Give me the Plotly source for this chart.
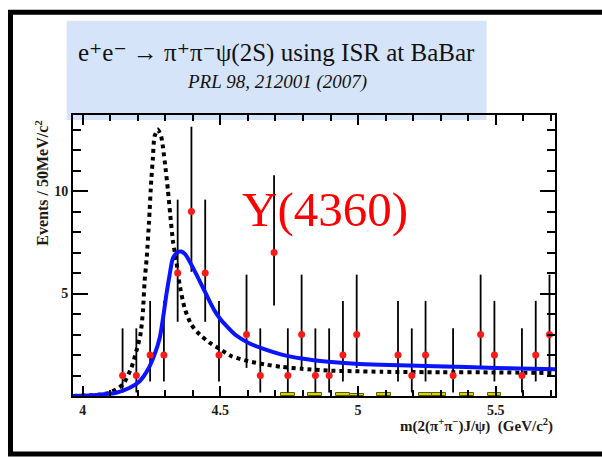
import plotly.graph_objects as go

# Measured spectrum: bin centres (GeV/c^2) and event counts per 50 MeV bin
mass = [4.145, 4.195, 4.245, 4.295, 4.345, 4.395, 4.445, 4.495, 4.595, 4.645,
        4.695, 4.745, 4.795, 4.845, 4.895, 4.945, 4.995, 5.145, 5.195, 5.245,
        5.345, 5.445, 5.495, 5.595, 5.645, 5.695]
events = [1, 1, 2, 2, 6, 9, 6, 2, 3, 1,
          7, 1, 3, 1, 1, 2, 3, 2, 1, 2,
          1, 3, 2, 1, 2, 3]

# Poisson 68% interval (lower, upper distance) for each observed count
poisson_err = {1: (0.83, 2.30), 2: (1.29, 2.64), 3: (1.63, 2.92),
               6: (2.38, 3.58), 7: (2.58, 3.77), 9: (2.94, 4.14)}
err_lo = [poisson_err[n][0] for n in events]
err_hi = [poisson_err[n][1] for n in events]

# J/psi sideband background histogram
bkg_mass = [4.745, 4.845, 4.945, 4.995, 5.095, 5.245, 5.295, 5.395, 5.495]
bkg_events = [0.15, 0.15, 0.15, 0.12, 0.15, 0.15, 0.15, 0.15, 0.15]

# Fitted Y(4360) line shape
fit_x = [3.965, 4.05, 4.122, 4.171, 4.207, 4.237, 4.261, 4.280, 4.292, 4.304,
         4.316, 4.328, 4.345, 4.358, 4.372, 4.388, 4.413, 4.437, 4.461, 4.480,
         4.497, 4.517, 4.553, 4.601, 4.662, 4.723, 4.795, 4.892, 4.989, 5.080,
         5.280, 5.500, 5.715]
fit_y = [0.0, 0.05, 0.16, 0.40, 0.72, 1.29, 2.02, 2.84, 3.81, 4.95,
         5.93, 6.74, 7.02, 7.05, 6.92, 6.58, 5.93, 5.28, 4.62, 4.14,
         3.81, 3.49, 3.00, 2.60, 2.27, 2.02, 1.83, 1.67, 1.57, 1.52,
         1.45, 1.37, 1.30]

# Expected shape for the Y(4260) hypothesis
y4260_x = [3.965, 4.05, 4.098, 4.146, 4.177, 4.195, 4.210, 4.219, 4.225, 4.233,
           4.241, 4.249, 4.255, 4.261, 4.273, 4.285, 4.292, 4.301, 4.310, 4.318,
           4.328, 4.340, 4.352, 4.370, 4.394, 4.425, 4.461, 4.497, 4.541, 4.601,
           4.662, 4.723, 4.795, 4.892, 4.989, 5.086, 5.300, 5.500, 5.715]
y4260_y = [0.0, 0.05, 0.16, 0.56, 1.38, 2.19, 3.00, 4.14, 5.60, 6.80,
           8.50, 10.5, 11.6, 12.67, 13.0, 12.67, 12.1, 11.1, 10.0, 8.85,
           7.55, 6.58, 5.44, 4.30, 3.49, 3.00, 2.60, 2.30, 1.94, 1.70,
           1.54, 1.42, 1.33, 1.24, 1.21, 1.18, 1.16, 1.15, 1.12]

serif = "Liberation Serif, DejaVu Serif, serif"

fig = go.Figure()

fig.add_trace(go.Bar(
    x=bkg_mass, y=bkg_events, width=0.05,
    marker=dict(color="#d8d400", line=dict(color="#5a5a00", width=1)),
    showlegend=False, hoverinfo="skip"))

fig.add_trace(go.Scatter(
    x=mass, y=events, mode="markers",
    marker=dict(size=7, color="rgba(0,0,0,0)"),
    error_y=dict(type="data", symmetric=False, array=err_hi, arrayminus=err_lo,
                 color="black", thickness=1.8, width=0),
    showlegend=False))

fig.add_trace(go.Scatter(
    x=y4260_x, y=y4260_y, mode="lines",
    line=dict(color="black", width=4, dash="4px,4px", shape="spline", smoothing=0.6),
    showlegend=False))

fig.add_trace(go.Scatter(
    x=fit_x, y=fit_y, mode="lines",
    line=dict(color="#0a14ff", width=4, shape="spline", smoothing=0.6),
    showlegend=False))

fig.add_trace(go.Scatter(
    x=mass, y=events, mode="markers",
    marker=dict(size=7, color="#ff1a1a"),
    showlegend=False))

axis_common = dict(
    showgrid=False, zeroline=False, showline=True, linecolor="black", linewidth=2,
    mirror="allticks", ticks="inside", tickcolor="black", tickwidth=1.5,
    tickfont=dict(family=serif, size=14, color="#1e1a14", weight="bold"))

fig.update_xaxes(range=[3.965, 5.715], tick0=4, dtick=0.5, ticklen=10,
                 minor=dict(dtick=0.1, tick0=4, ticks="inside", ticklen=6,
                            tickcolor="black", tickwidth=1.5),
                 **axis_common)
fig.update_yaxes(range=[0, 13.71], tick0=0, dtick=5, ticklen=15,
                 tickvals=[5, 10], ticktext=["5", "10"],
                 minor=dict(dtick=1, tick0=0, ticks="inside", ticklen=8,
                            tickcolor="black", tickwidth=1.5),
                 **axis_common)

fig.update_layout(
    width=602, height=457,
    margin=dict(l=73, r=47, t=115, b=61),
    paper_bgcolor="white", plot_bgcolor="white",
    bargap=0,
    shapes=[
        # banner behind the title
        dict(type="rect", xref="paper", yref="paper",
             x0=-0.0131, x1=0.858, y0=0.9822, y1=1.3356,
             fillcolor="#d6e4fa", line=dict(width=0), layer="below"),
        # outer slide frame
        dict(type="rect", xref="paper", yref="paper",
             x0=-0.1297, x1=1.12, y0=-0.2064, y1=1.366,
             fillcolor="rgba(0,0,0,0)", line=dict(color="black", width=5)),
    ],
    annotations=[
        dict(text="e\u207ae\u207b \u2192 \u03c0\u207a\u03c0\u207b\u03c8(2S) using ISR at BaBar",
             xref="paper", yref="paper", x=0.4232, y=1.22,
             xanchor="center", yanchor="middle", showarrow=False,
             font=dict(family=serif, size=25, color="#111")),
        dict(text="PRL 98, 212001 (2007)",
             xref="paper", yref="paper", x=0.4232, y=1.117,
             xanchor="center", yanchor="middle", showarrow=False,
             font=dict(family=serif, size=19, color="#111", style="italic")),
        dict(text="Y(4360)", xref="x", yref="y", x=4.88, y=9.1,
             xanchor="center", yanchor="middle", showarrow=False,
             font=dict(family=serif, size=49, color="#ff0000")),
        dict(text="Events / 50MeV/c<sup>2</sup>", textangle=-90,
             xref="paper", yref="paper", x=-0.065, y=0.758,
             xanchor="center", yanchor="middle", showarrow=False,
             font=dict(family=serif, size=16, color="#1e1a14", weight="bold")),
        dict(text="m(2(\u03c0<sup>+</sup>\u03c0<sup>\u2212</sup>)J/\u03c8)\u00a0\u00a0(GeV/c<sup>2</sup>)",
             xref="paper", yref="paper", x=1.0, y=-0.1057,
             xanchor="right", yanchor="middle", showarrow=False,
             font=dict(family=serif, size=15, color="#1e1a14", weight="bold")),
    ],
)

fig.write_html("out.html")
